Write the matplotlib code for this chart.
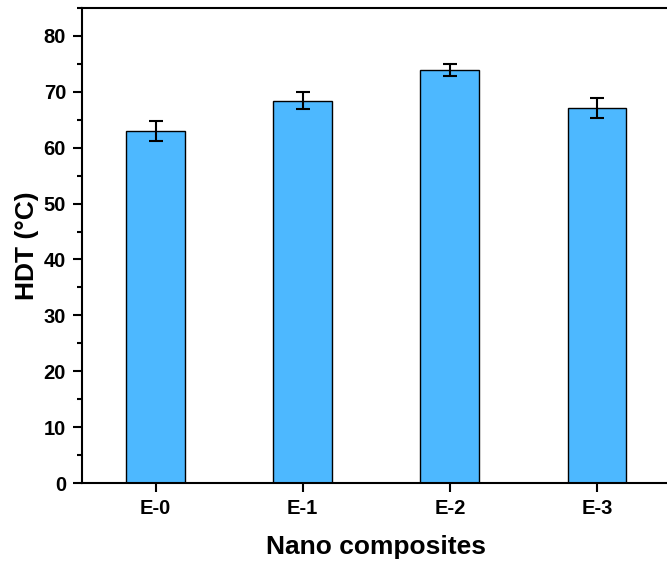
import matplotlib
matplotlib.use("Agg")
import matplotlib.pyplot as plt
from matplotlib.ticker import MultipleLocator

# Data
samples = ['E-0', 'E-1', 'E-2', 'E-3']
hdt = [63.0, 68.4, 73.9, 67.1]
hdt_err = [1.8, 1.5, 1.0, 1.8]

plt.rcParams['font.family'] = ['Liberation Sans', 'DejaVu Sans']
plt.rcParams['font.weight'] = 'bold'

fig = plt.figure(figsize=(6.67, 5.65), dpi=100)
ax = fig.add_axes([0.1229, 0.1451, 0.8824, 0.8407])

x = range(len(samples))
ax.bar(x, hdt, width=0.4, color='#4DB8FF', edgecolor='black', linewidth=1.0,
       yerr=hdt_err, capsize=5, error_kw=dict(elinewidth=1.5, capthick=1.5, ecolor='black'))

ax.set_xlim(-0.5, 3.5)
ax.set_ylim(0, 85)
ax.set_xticks(list(x))
ax.set_xticklabels(samples)
ax.yaxis.set_major_locator(MultipleLocator(10))
ax.yaxis.set_minor_locator(MultipleLocator(5))

for s in ax.spines.values():
    s.set_linewidth(1.5)

ax.tick_params(axis='both', which='major', direction='out', length=6.5, width=1.5,
               labelsize=14.5, pad=5)
ax.tick_params(axis='y', which='minor', direction='out', length=3.5, width=1.5)
for lab in ax.get_xticklabels() + ax.get_yticklabels():
    lab.set_fontweight('bold')

ax.set_xlabel('Nano composites', fontsize=19, fontweight='bold', labelpad=12)
ax.set_ylabel('HDT (°C)', fontsize=19, fontweight='bold', labelpad=3)

fig.savefig('out.png', dpi=100)
